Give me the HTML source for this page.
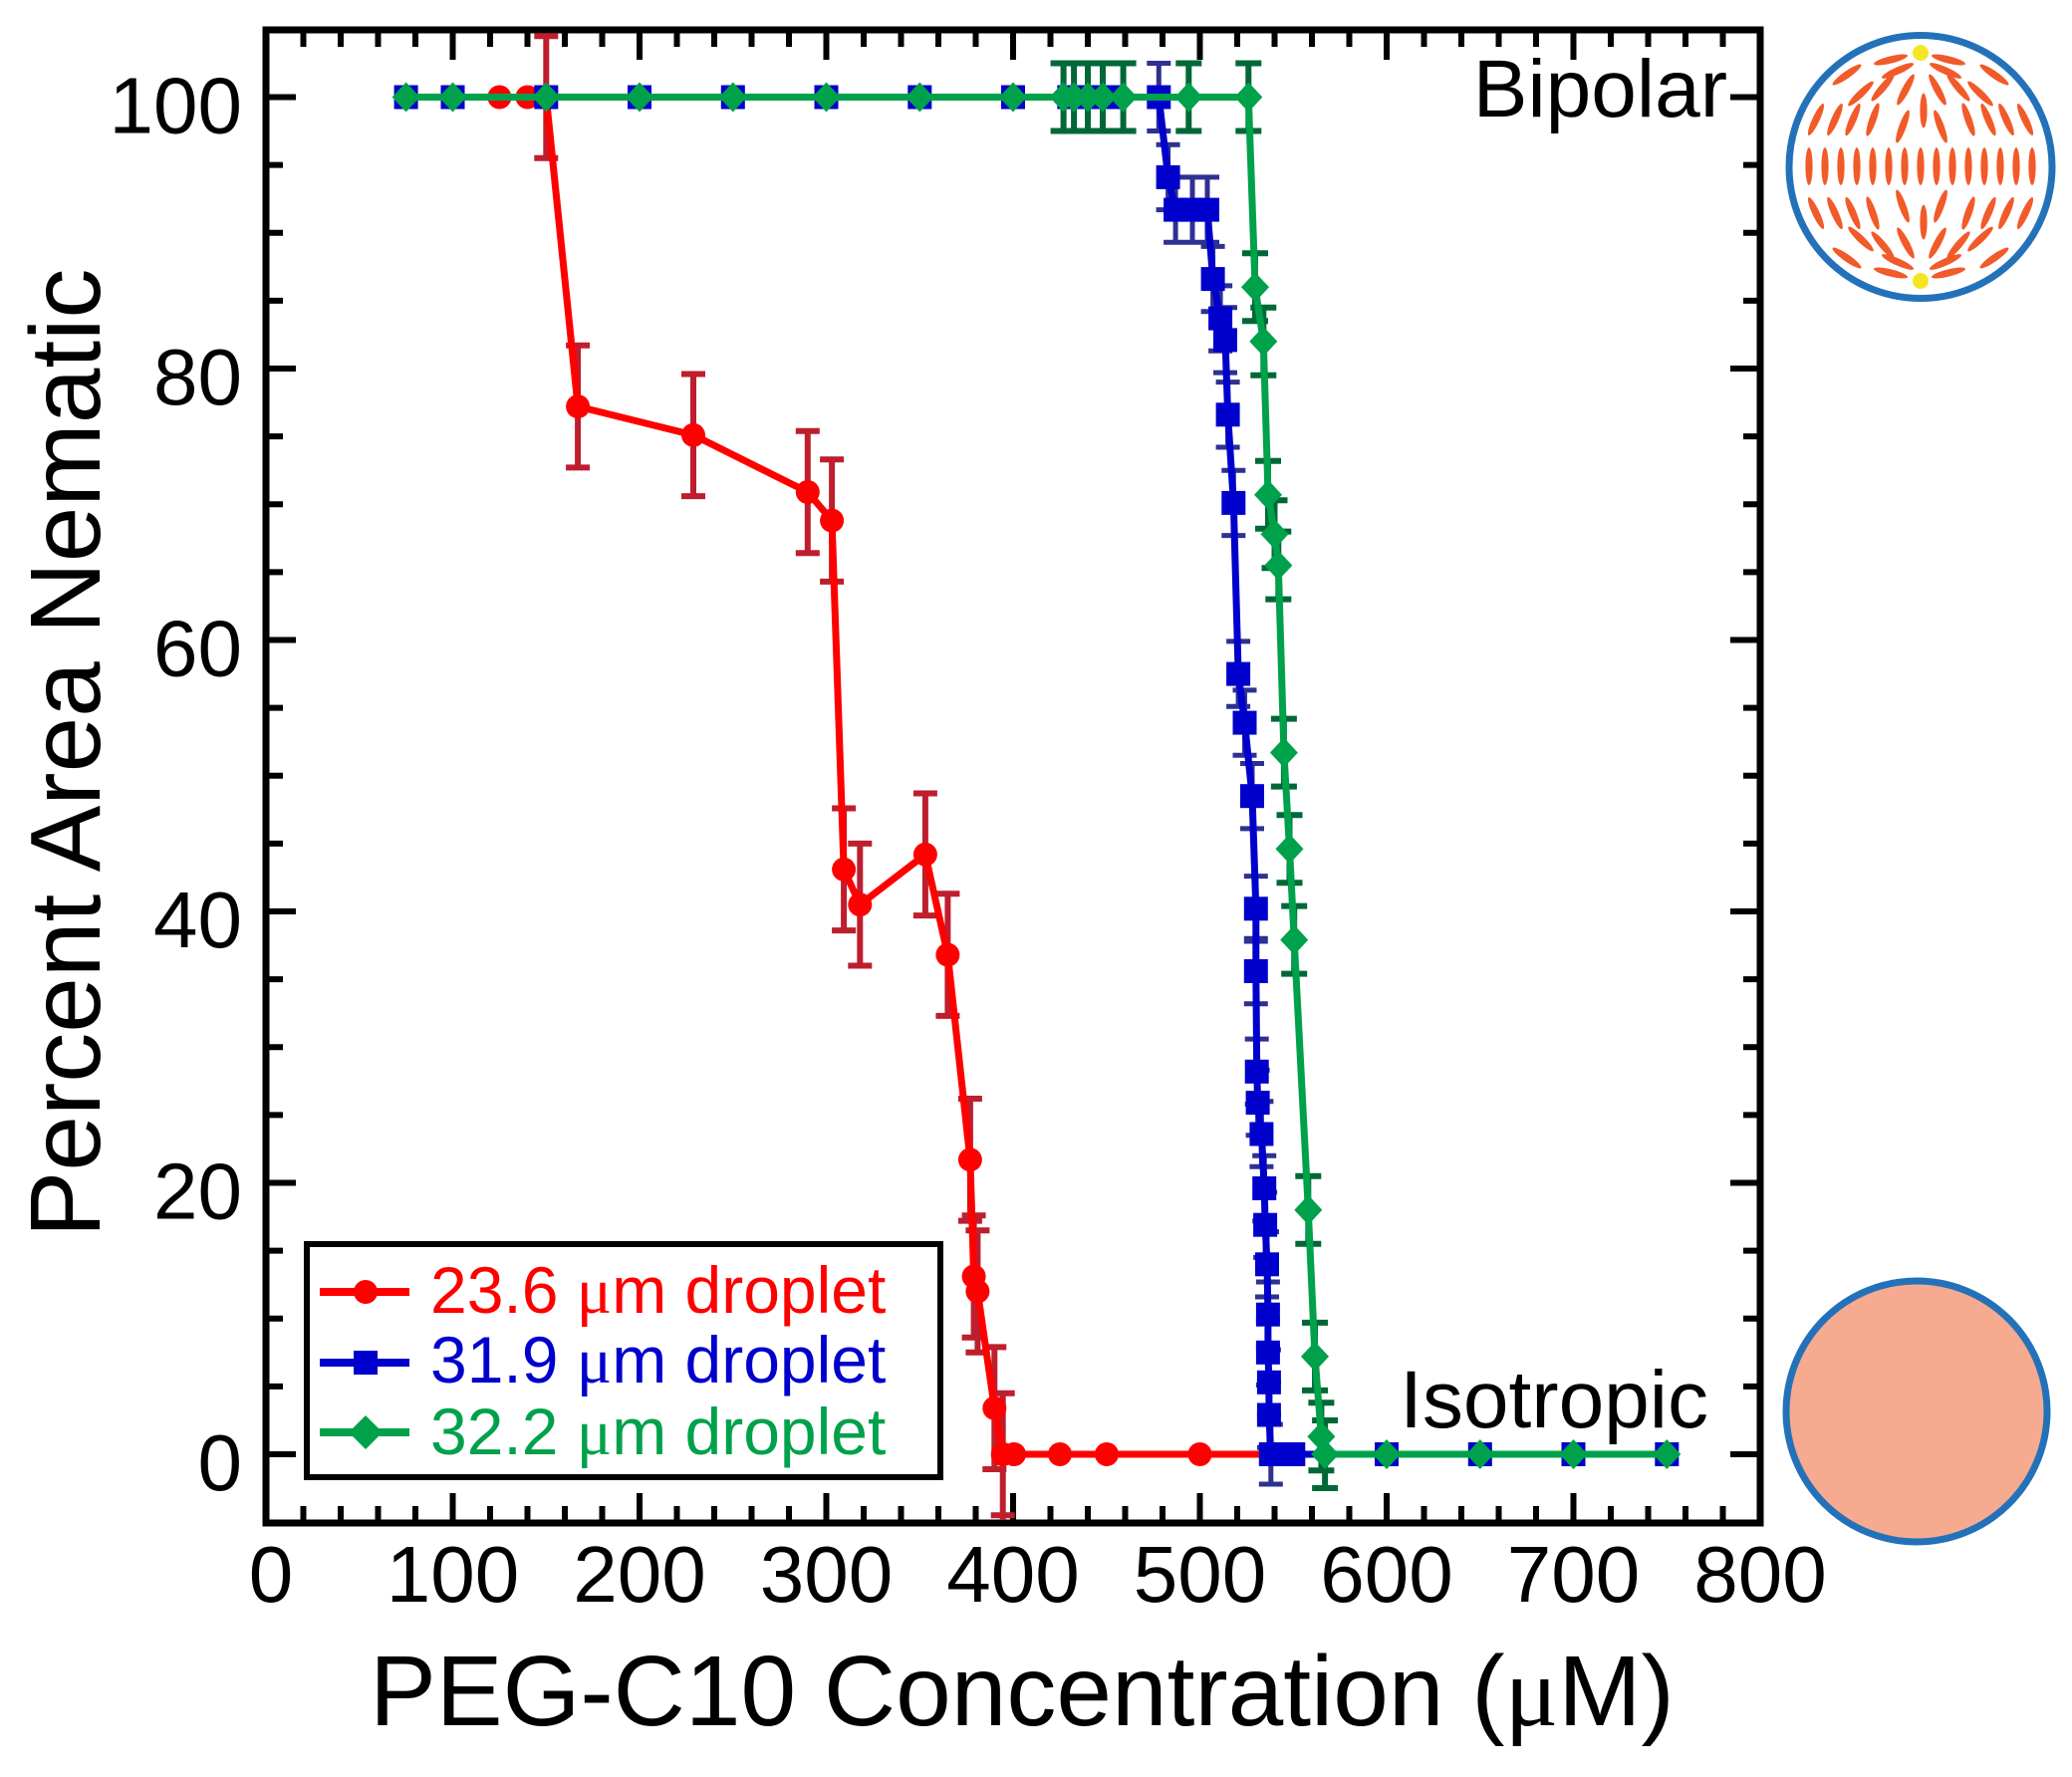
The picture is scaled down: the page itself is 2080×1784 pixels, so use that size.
<!DOCTYPE html>
<html><head><meta charset="utf-8"><style>
html,body{margin:0;padding:0;background:#fff;}
svg{display:block;}
text{font-family:"Liberation Sans",Arial,sans-serif;}
.mu{font-family:"Liberation Serif",serif;}
</style></head><body>
<svg width="2080" height="1784" viewBox="0 0 2080 1784">
<defs>
<circle id="rc" r="12" fill="#ff0000"/>
<rect id="bs" x="-12" y="-12" width="24" height="24" fill="#0000cc"/>
<path id="gd" d="M0 -15L14 0 0 15 -14 0Z" fill="#00a14b"/>
</defs>
<rect x="0" y="0" width="2080" height="1784" fill="#fff"/>

<!-- frame -->
<rect x="267" y="30" width="1500" height="1499" fill="none" stroke="#000" stroke-width="7"/>
<g stroke="#000" stroke-width="6" fill="none">
<path d="M304.5 1529v-17M342 1529v-17M379.5 1529v-17M417 1529v-17M454.5 1529v-30M492 1529v-17M529.5 1529v-17M567 1529v-17M604.5 1529v-17M642 1529v-30M679.5 1529v-17M717 1529v-17M754.5 1529v-17M792 1529v-17M829.5 1529v-30M867 1529v-17M904.5 1529v-17M942 1529v-17M979.5 1529v-17M1017 1529v-30M1054.5 1529v-17M1092 1529v-17M1129.5 1529v-17M1167 1529v-17M1204.5 1529v-30M1242 1529v-17M1279.5 1529v-17M1317 1529v-17M1354.5 1529v-17M1392 1529v-30M1429.5 1529v-17M1467 1529v-17M1504.5 1529v-17M1542 1529v-17M1579.5 1529v-30M1617 1529v-17M1654.5 1529v-17M1692 1529v-17M1729.5 1529v-17"/>
<path d="M304.5 30v17M342 30v17M379.5 30v17M417 30v17M454.5 30v30M492 30v17M529.5 30v17M567 30v17M604.5 30v17M642 30v30M679.5 30v17M717 30v17M754.5 30v17M792 30v17M829.5 30v30M867 30v17M904.5 30v17M942 30v17M979.5 30v17M1017 30v30M1054.5 30v17M1092 30v17M1129.5 30v17M1167 30v17M1204.5 30v30M1242 30v17M1279.5 30v17M1317 30v17M1354.5 30v17M1392 30v30M1429.5 30v17M1467 30v17M1504.5 30v17M1542 30v17M1579.5 30v30M1617 30v17M1654.5 30v17M1692 30v17M1729.5 30v17"/>
<path d="M267 1460h30M267 1391.9h17M267 1323.75h17M267 1255.6h17M267 1187.5h30M267 1119.4h17M267 1051.25h17M267 983.1h17M267 915h30M267 846.9h17M267 778.75h17M267 710.6h17M267 642.5h30M267 574.4h17M267 506.25h17M267 438.1h17M267 370h30M267 301.9h17M267 233.75h17M267 165.6h17M267 97.5h30"/>
<path d="M1767 1460h-30M1767 1391.9h-17M1767 1323.75h-17M1767 1255.6h-17M1767 1187.5h-30M1767 1119.4h-17M1767 1051.25h-17M1767 983.1h-17M1767 915h-30M1767 846.9h-17M1767 778.75h-17M1767 710.6h-17M1767 642.5h-30M1767 574.4h-17M1767 506.25h-17M1767 438.1h-17M1767 370h-30M1767 301.9h-17M1767 233.75h-17M1767 165.6h-17M1767 97.5h-30"/>
</g>

<!-- tick labels -->
<g font-size="80" fill="#000" text-anchor="end">
<text x="243" y="133.5">100</text>
<text x="243" y="406">80</text>
<text x="243" y="678.5">60</text>
<text x="243" y="951">40</text>
<text x="243" y="1223.5">20</text>
<text x="243" y="1496">0</text>
</g>
<g font-size="80" fill="#000" text-anchor="middle">
<text x="272" y="1608">0</text>
<text x="454.5" y="1608">100</text>
<text x="642" y="1608">200</text>
<text x="829.5" y="1608">300</text>
<text x="1017" y="1608">400</text>
<text x="1204.5" y="1608">500</text>
<text x="1392" y="1608">600</text>
<text x="1579.5" y="1608">700</text>
<text x="1767" y="1608">800</text>
</g>

<!-- axis titles -->
<text x="1026" y="1732" font-size="100" text-anchor="middle" fill="#000">PEG-C10 Concentration (<tspan class="mu">μ</tspan>M)</text>
<text transform="translate(100,756) rotate(-90)" font-size="100" text-anchor="middle" fill="#000">Percent Area Nematic</text>

<text x="1734" y="117" font-size="82" text-anchor="end" fill="#000">Bipolar</text>
<text x="1715" y="1433" font-size="82" text-anchor="end" fill="#000">Isotropic</text>

<!-- RED series -->
<path fill="none" stroke="#be1e2d" stroke-width="6" d="
M548.3 36.2V158.8M536.3 36.2h24M536.3 158.8h24
M580.1 346.8V469.4M568.1 346.8h24M568.1 469.4h24
M696 375.5V498.1M684 375.5h24M684 498.1h24
M810.8 432.7V555.3M798.8 432.7h24M798.8 555.3h24
M835.1 461.3V583.9M823.1 461.3h24M823.1 583.9h24
M847.1 811.5V934.1M835.1 811.5h24M835.1 934.1h24
M863.3 846.9V969.5M851.3 846.9h24M851.3 969.5h24
M928.9 796.5V919.1M916.9 796.5h24M916.9 919.1h24
M951.4 897.3V1019.9M939.4 897.3h24M939.4 1019.9h24
M973.9 1103V1225.6M961.9 1103h24M961.9 1225.6h24
M977.6 1220.2V1342.8M965.6 1220.2h24M965.6 1342.8h24
M981.4 1235.2V1357.8M969.4 1235.2h24M969.4 1357.8h24
M998.3 1352.4V1475M986.3 1352.4h24M986.3 1475h24
M1006.7 1398.7V1526M994.7 1398.7h24M994.7 1521.3h24"/>
<polyline fill="none" stroke="#ff0000" stroke-width="7" stroke-linejoin="round" points="501.4,97.5 529.5,97.5 548.3,97.5 580.1,408.1 696,436.8 810.8,494 835.1,522.6 847.1,872.8 863.3,908.2 928.9,857.8 951.4,958.6 973.9,1164.3 977.6,1281.5 981.4,1296.5 998.3,1413.7 1006.7,1460 1018,1460 1064,1460 1111,1460 1204.5,1460 1279.5,1460"/>
<g>
<use href="#rc" x="501.4" y="97.5"/><use href="#rc" x="529.5" y="97.5"/><use href="#rc" x="548.3" y="97.5"/>
<use href="#rc" x="580.1" y="408.1"/><use href="#rc" x="696" y="436.8"/><use href="#rc" x="810.8" y="494"/>
<use href="#rc" x="835.1" y="522.6"/><use href="#rc" x="847.1" y="872.8"/><use href="#rc" x="863.3" y="908.2"/>
<use href="#rc" x="928.9" y="857.8"/><use href="#rc" x="951.4" y="958.6"/><use href="#rc" x="973.9" y="1164.3"/>
<use href="#rc" x="977.6" y="1281.5"/><use href="#rc" x="981.4" y="1296.5"/><use href="#rc" x="998.3" y="1413.7"/>
<use href="#rc" x="1006.7" y="1460"/><use href="#rc" x="1018" y="1460"/><use href="#rc" x="1064" y="1460"/>
<use href="#rc" x="1111" y="1460"/><use href="#rc" x="1204.5" y="1460"/>
</g>

<!-- BLUE series -->
<path fill="none" stroke="#2e3192" stroke-width="5" d="
M1163.3 63.5V131.5M1151.3 63.5h24M1151.3 131.5h24
M1172.6 145.2V210.6M1160.6 145.2h24M1160.6 210.6h24
M1180.1 177.9V243.3M1168.1 177.9h24M1168.1 243.3h24
M1197 177.9V243.3M1185 177.9h24M1185 243.3h24
M1212 177.9V243.3M1200 177.9h24M1200 243.3h24
M1217.6 247.4V312.8M1205.6 247.4h24M1205.6 312.8h24
M1225.1 286.9V352.3M1213.1 286.9h24M1213.1 352.3h24
M1230 308.7V374.1M1218 308.7h24M1218 374.1h24
M1232.6 383.6V449M1220.6 383.6h24M1220.6 449h24
M1238.3 472.2V537.6M1226.3 472.2h24M1226.3 537.6h24
M1243.1 643.9V709.3M1231.1 643.9h24M1231.1 709.3h24
M1249.5 692.9V758.3M1237.5 692.9h24M1237.5 758.3h24
M1257 766.5V831.9M1245 766.5h24M1245 831.9h24
M1260.8 879.6V945M1248.8 879.6h24M1248.8 945h24
M1260.8 942.3V1007.7M1248.8 942.3h24M1248.8 1007.7h24
M1261.7 1043.1V1108.5M1249.7 1043.1h24M1249.7 1108.5h24
M1262.6 1074.4V1139.8M1250.6 1074.4h24M1250.6 1139.8h24
M1266.4 1105.8V1171.2M1254.4 1105.8h24M1254.4 1171.2h24
M1269.2 1160.3V1225.7M1257.2 1160.3h24M1257.2 1225.7h24
M1270.1 1197V1262.4M1258.1 1197h24M1258.1 1262.4h24
M1272 1236.6V1302M1260 1236.6h24M1260 1302h24
M1272.9 1287V1352.4M1260.9 1287h24M1260.9 1352.4h24
M1272.9 1325.1V1390.5M1260.9 1325.1h24M1260.9 1390.5h24
M1273.9 1355.1V1420.5M1261.9 1355.1h24M1261.9 1420.5h24
M1273.9 1387.8V1453.2M1261.9 1387.8h24M1261.9 1453.2h24
M1275.8 1430V1490M1263.8 1430h24M1263.8 1490h24"/>
<polyline fill="none" stroke="#0000cc" stroke-width="7" stroke-linejoin="round" points="407.6,97.5 454.5,97.5 548.3,97.5 642,97.5 735.8,97.5 829.5,97.5 923.3,97.5 1017,97.5 1073.3,97.5 1092,97.5 1112.6,97.5 1163.3,97.5 1172.6,177.9 1180.1,210.6 1197,210.6 1212,210.6 1217.6,280.1 1225.1,319.6 1230,341.4 1232.6,416.3 1238.3,504.9 1243.1,676.6 1249.5,725.6 1257,799.2 1260.8,912.3 1260.8,975 1261.7,1075.8 1262.6,1107.1 1266.4,1138.5 1269.2,1193 1270.1,1229.7 1272,1269.3 1272.9,1319.7 1272.9,1357.8 1273.9,1387.8 1273.9,1420.5 1275.8,1460 1298.3,1460 1392,1460 1485.8,1460 1579.5,1460 1673.3,1460"/>
<g>
<use href="#bs" x="407.6" y="97.5"/><use href="#bs" x="454.5" y="97.5"/><use href="#bs" x="548.3" y="97.5"/>
<use href="#bs" x="642" y="97.5"/><use href="#bs" x="735.8" y="97.5"/><use href="#bs" x="829.5" y="97.5"/>
<use href="#bs" x="923.3" y="97.5"/><use href="#bs" x="1017" y="97.5"/><use href="#bs" x="1073.3" y="97.5"/>
<use href="#bs" x="1092" y="97.5"/><use href="#bs" x="1112.6" y="97.5"/><use href="#bs" x="1163.3" y="97.5"/>
<use href="#bs" x="1172.6" y="177.9"/><use href="#bs" x="1180.1" y="210.6"/><use href="#bs" x="1197" y="210.6"/>
<use href="#bs" x="1212" y="210.6"/><use href="#bs" x="1217.6" y="280.1"/><use href="#bs" x="1225.1" y="319.6"/>
<use href="#bs" x="1230" y="341.4"/><use href="#bs" x="1232.6" y="416.3"/><use href="#bs" x="1238.3" y="504.9"/>
<use href="#bs" x="1243.1" y="676.6"/><use href="#bs" x="1249.5" y="725.6"/><use href="#bs" x="1257" y="799.2"/>
<use href="#bs" x="1260.8" y="912.3"/><use href="#bs" x="1260.8" y="975"/><use href="#bs" x="1261.7" y="1075.8"/>
<use href="#bs" x="1262.6" y="1107.1"/><use href="#bs" x="1266.4" y="1138.5"/><use href="#bs" x="1269.2" y="1193"/>
<use href="#bs" x="1270.1" y="1229.7"/><use href="#bs" x="1272" y="1269.3"/><use href="#bs" x="1272.9" y="1319.7"/>
<use href="#bs" x="1272.9" y="1357.8"/><use href="#bs" x="1273.9" y="1387.8"/><use href="#bs" x="1273.9" y="1420.5"/>
<use href="#bs" x="1275.8" y="1460"/><use href="#bs" x="1298.3" y="1460"/><use href="#bs" x="1392" y="1460"/>
<use href="#bs" x="1485.8" y="1460"/><use href="#bs" x="1579.5" y="1460"/><use href="#bs" x="1673.3" y="1460"/>
</g>

<!-- GREEN series -->
<path fill="none" stroke="#006837" stroke-width="6" d="
M1067.6 63.5V131.5M1054.6 63.5h26M1054.6 131.5h26
M1078.1 63.5V131.5M1065.1 63.5h26M1065.1 131.5h26
M1092 63.5V131.5M1079 63.5h26M1079 131.5h26
M1107 63.5V131.5M1094 63.5h26M1094 131.5h26
M1127.6 63.5V131.5M1114.6 63.5h26M1114.6 131.5h26
M1193.3 63.5V131.5M1180.3 63.5h26M1180.3 131.5h26
M1253.3 63.5V131.5M1240.3 63.5h26M1240.3 131.5h26
M1260 254.3V322.3M1247 254.3h26M1247 322.3h26
M1268.3 308.8V376.8M1255.3 308.8h26M1255.3 376.8h26
M1273 462.7V530.7M1260 462.7h26M1260 530.7h26
M1279.5 502.2V570.2M1266.5 502.2h26M1266.5 570.2h26
M1283.3 533.6V601.6M1270.3 533.6h26M1270.3 601.6h26
M1288.9 721.6V789.6M1275.9 721.6h26M1275.9 789.6h26
M1294.5 818.3V886.3M1281.5 818.3h26M1281.5 886.3h26
M1299.2 909.6V977.6M1286.2 909.6h26M1286.2 977.6h26
M1313.3 1180.8V1248.8M1300.3 1180.8h26M1300.3 1248.8h26
M1320 1327.9V1395.9M1307 1327.9h26M1307 1395.9h26
M1326.4 1408.3V1476.3M1313.4 1408.3h26M1313.4 1476.3h26
M1330.1 1426V1494M1317.1 1426h26M1317.1 1494h26"/>
<polyline fill="none" stroke="#00a14b" stroke-width="7" stroke-linejoin="round" points="407.6,97.5 454.5,97.5 548.3,97.5 642,97.5 735.8,97.5 829.5,97.5 923.3,97.5 1017,97.5 1067.6,97.5 1078.1,97.5 1092,97.5 1107,97.5 1127.6,97.5 1193.3,97.5 1253.3,97.5 1260,288.3 1268.3,342.8 1273,496.7 1279.5,536.2 1283.3,567.6 1288.9,755.6 1294.5,852.3 1299.2,943.6 1313.3,1214.8 1320,1361.9 1326.4,1442.3 1330.1,1460 1392,1460 1485.8,1460 1579.5,1460 1673.3,1460"/>
<g>
<use href="#gd" x="407.6" y="97.5"/><use href="#gd" x="454.5" y="97.5"/><use href="#gd" x="548.3" y="97.5"/>
<use href="#gd" x="642" y="97.5"/><use href="#gd" x="735.8" y="97.5"/><use href="#gd" x="829.5" y="97.5"/>
<use href="#gd" x="923.3" y="97.5"/><use href="#gd" x="1017" y="97.5"/><use href="#gd" x="1067.6" y="97.5"/>
<use href="#gd" x="1078.1" y="97.5"/><use href="#gd" x="1092" y="97.5"/><use href="#gd" x="1107" y="97.5"/>
<use href="#gd" x="1127.6" y="97.5"/><use href="#gd" x="1193.3" y="97.5"/><use href="#gd" x="1253.3" y="97.5"/>
<use href="#gd" x="1260" y="288.3"/><use href="#gd" x="1268.3" y="342.8"/><use href="#gd" x="1273" y="496.7"/>
<use href="#gd" x="1279.5" y="536.2"/><use href="#gd" x="1283.3" y="567.6"/><use href="#gd" x="1288.9" y="755.6"/>
<use href="#gd" x="1294.5" y="852.3"/><use href="#gd" x="1299.2" y="943.6"/><use href="#gd" x="1313.3" y="1214.8"/>
<use href="#gd" x="1320" y="1361.9"/><use href="#gd" x="1326.4" y="1442.3"/><use href="#gd" x="1330.1" y="1460"/>
<use href="#gd" x="1392" y="1460"/><use href="#gd" x="1485.8" y="1460"/><use href="#gd" x="1579.5" y="1460"/>
<use href="#gd" x="1673.3" y="1460"/>
</g>

<!-- legend -->
<rect x="308" y="1249" width="636" height="234" fill="#fff" stroke="#000" stroke-width="6"/>
<path d="M321 1297H411" stroke="#ff0000" stroke-width="8"/>
<circle cx="367" cy="1297" r="12" fill="#ff0000"/>
<path d="M321 1368H411" stroke="#0000cc" stroke-width="8"/>
<rect x="355" y="1356" width="24" height="24" fill="#0000cc"/>
<path d="M321 1438H411" stroke="#00a14b" stroke-width="8"/>
<path d="M367 1421L384 1438 367 1455 350 1438Z" fill="#00a14b"/>
<g font-size="66">
<text x="432" y="1318" fill="#ff0000">23.6 <tspan class="mu">μ</tspan>m droplet</text>
<text x="432" y="1388" fill="#0000cc">31.9 <tspan class="mu">μ</tspan>m droplet</text>
<text x="432" y="1460" fill="#00a14b">32.2 <tspan class="mu">μ</tspan>m droplet</text>
</g>

<!-- bipolar droplet -->
<circle cx="1928" cy="167.5" r="132" fill="#fff" stroke="#2372b9" stroke-width="7"/>
<g fill="#f15a29">
<ellipse rx="3.6" ry="17.5" transform="translate(1898,60) rotate(76)"/>
<ellipse rx="3.6" ry="17.5" transform="translate(1956,60) rotate(-76)"/>
<ellipse rx="3.6" ry="17.5" transform="translate(1905,71) rotate(66)"/>
<ellipse rx="3.6" ry="17.5" transform="translate(1953,71) rotate(-66)"/>
<ellipse rx="3.6" ry="17.5" transform="translate(1854,75) rotate(55)"/>
<ellipse rx="3.6" ry="17.5" transform="translate(2002,75) rotate(-55)"/>
<ellipse rx="3.6" ry="17.5" transform="translate(1868,94) rotate(46)"/>
<ellipse rx="3.6" ry="17.5" transform="translate(1988,94) rotate(-46)"/>
<ellipse rx="3.6" ry="17.5" transform="translate(1890,88) rotate(40)"/>
<ellipse rx="3.6" ry="17.5" transform="translate(1966,88) rotate(-40)"/>
<ellipse rx="3.6" ry="17.5" transform="translate(1913,90) rotate(28)"/>
<ellipse rx="3.6" ry="17.5" transform="translate(1945,90) rotate(-28)"/>
<ellipse rx="3.6" ry="17.5" transform="translate(1931,111) rotate(0)"/>
<ellipse rx="3.6" ry="17.5" transform="translate(1823,120) rotate(25)"/>
<ellipse rx="3.6" ry="17.5" transform="translate(1842,120) rotate(24)"/>
<ellipse rx="3.6" ry="17.5" transform="translate(1860,120) rotate(23)"/>
<ellipse rx="3.6" ry="17.5" transform="translate(1880,120) rotate(19)"/>
<ellipse rx="3.6" ry="17.5" transform="translate(1910,127) rotate(20)"/>
<ellipse rx="3.6" ry="17.5" transform="translate(1948,127) rotate(-20)"/>
<ellipse rx="3.6" ry="17.5" transform="translate(1976,120) rotate(-19)"/>
<ellipse rx="3.6" ry="17.5" transform="translate(1996,120) rotate(-23)"/>
<ellipse rx="3.6" ry="17.5" transform="translate(2014,120) rotate(-24)"/>
<ellipse rx="3.6" ry="17.5" transform="translate(2033,120) rotate(-25)"/>
<ellipse cx="1816" cy="167" rx="3.6" ry="19"/>
<ellipse cx="1832" cy="167" rx="3.6" ry="19"/>
<ellipse cx="1848" cy="167" rx="3.6" ry="19"/>
<ellipse cx="1864" cy="167" rx="3.6" ry="19"/>
<ellipse cx="1880" cy="167" rx="3.6" ry="19"/>
<ellipse cx="1896" cy="167" rx="3.6" ry="19"/>
<ellipse cx="1912" cy="167" rx="3.6" ry="19"/>
<ellipse cx="1928" cy="167" rx="3.6" ry="19"/>
<ellipse cx="1944" cy="167" rx="3.6" ry="19"/>
<ellipse cx="1960" cy="167" rx="3.6" ry="19"/>
<ellipse cx="1976" cy="167" rx="3.6" ry="19"/>
<ellipse cx="1992" cy="167" rx="3.6" ry="19"/>
<ellipse cx="2008" cy="167" rx="3.6" ry="19"/>
<ellipse cx="2024" cy="167" rx="3.6" ry="19"/>
<ellipse cx="2040" cy="167" rx="3.6" ry="19"/>
<ellipse rx="3.6" ry="17.5" transform="translate(1898,274) rotate(-76)"/>
<ellipse rx="3.6" ry="17.5" transform="translate(1956,274) rotate(76)"/>
<ellipse rx="3.6" ry="17.5" transform="translate(1905,263) rotate(-66)"/>
<ellipse rx="3.6" ry="17.5" transform="translate(1953,263) rotate(66)"/>
<ellipse rx="3.6" ry="17.5" transform="translate(1854,259) rotate(-55)"/>
<ellipse rx="3.6" ry="17.5" transform="translate(2002,259) rotate(55)"/>
<ellipse rx="3.6" ry="17.5" transform="translate(1868,240) rotate(-46)"/>
<ellipse rx="3.6" ry="17.5" transform="translate(1988,240) rotate(46)"/>
<ellipse rx="3.6" ry="17.5" transform="translate(1890,246) rotate(-40)"/>
<ellipse rx="3.6" ry="17.5" transform="translate(1966,246) rotate(40)"/>
<ellipse rx="3.6" ry="17.5" transform="translate(1913,244) rotate(-28)"/>
<ellipse rx="3.6" ry="17.5" transform="translate(1945,244) rotate(28)"/>
<ellipse rx="3.6" ry="17.5" transform="translate(1931,223) rotate(0)"/>
<ellipse rx="3.6" ry="17.5" transform="translate(1823,214) rotate(-25)"/>
<ellipse rx="3.6" ry="17.5" transform="translate(1842,214) rotate(-24)"/>
<ellipse rx="3.6" ry="17.5" transform="translate(1860,214) rotate(-23)"/>
<ellipse rx="3.6" ry="17.5" transform="translate(1880,214) rotate(-19)"/>
<ellipse rx="3.6" ry="17.5" transform="translate(1910,207) rotate(-20)"/>
<ellipse rx="3.6" ry="17.5" transform="translate(1948,207) rotate(20)"/>
<ellipse rx="3.6" ry="17.5" transform="translate(1976,214) rotate(19)"/>
<ellipse rx="3.6" ry="17.5" transform="translate(1996,214) rotate(23)"/>
<ellipse rx="3.6" ry="17.5" transform="translate(2014,214) rotate(24)"/>
<ellipse rx="3.6" ry="17.5" transform="translate(2033,214) rotate(25)"/>
</g>
<circle cx="1928" cy="53" r="8" fill="#f5e625"/>
<circle cx="1928" cy="282" r="8" fill="#f5e625"/>

<!-- isotropic droplet -->
<circle cx="1924" cy="1417" r="131" fill="#f6aa8f" stroke="#2372b9" stroke-width="7"/>
</svg>
</body></html>
